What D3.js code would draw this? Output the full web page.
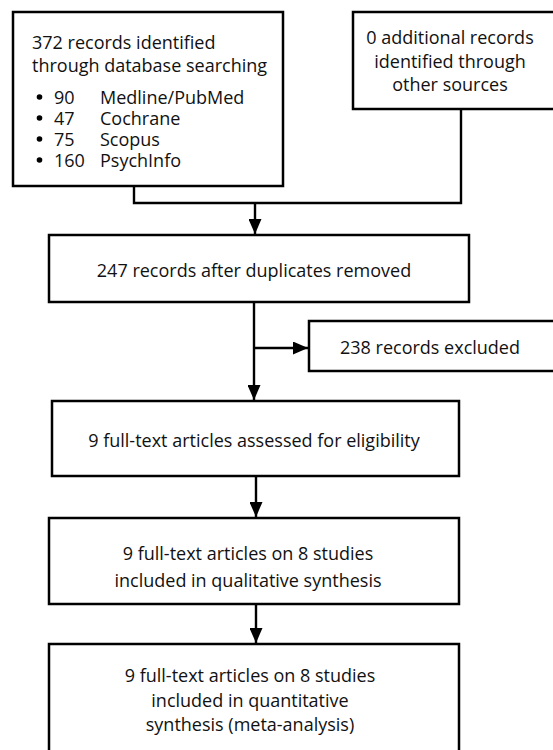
<!DOCTYPE html>
<html>
<head>
<meta charset="utf-8">
<script src="https://cdn.jsdelivr.net/npm/d3@7"></script>
<style>
  html, body { margin: 0; padding: 0; background: #fff; }
  svg { display: block; }
  text { font-family: "Open Sans", "Noto Sans", sans-serif; font-size: 18px; fill: #111; }
</style>
</head>
<body>
<svg id="chart"></svg>
<script>
// ── Data ──────────────────────────────────────────────────────────────────────
const dbTotal    = 372;
const dbNames    = ["Medline/PubMed", "Cochrane", "Scopus", "PsychInfo"];
const dbCounts   = [90, 47, 75, 160];
const otherCount = 0;
const afterDupes = 247;
const excluded   = 238;
const fullText   = 9;
const studies    = 8;

const dbLines    = [`${dbTotal} records identified`, "through database searching"];
const otherLines = [`${otherCount} additional records`, "identified through", "other sources"];
const dupeLines  = [`${afterDupes} records after duplicates removed`];
const exclLines  = [`${excluded} records excluded`];
const eligLines  = [`${fullText} full-text articles assessed for eligibility`];
const qualLines  = [`${fullText} full-text articles on ${studies} studies`, "included in qualitative synthesis"];
const quantLines = [`${fullText} full-text articles on ${studies} studies`, "included in quantitative", "synthesis (meta-analysis)"];

// ── Layout ────────────────────────────────────────────────────────────────────
const W = 553, H = 750;
const svg = d3.select("#chart").attr("width", W).attr("height", H);

svg.append("defs").append("marker")
  .attr("id", "arrow")
  .attr("viewBox", "0 0 15 13")
  .attr("refX", 15).attr("refY", 6.5)
  .attr("markerWidth", 15).attr("markerHeight", 13)
  .attr("markerUnits", "userSpaceOnUse")
  .attr("orient", "auto")
  .append("path").attr("d", "M0,0 L15,6.5 L0,13 Z").attr("fill", "#000");

// boxes: x, y, w, h, text centre x, line ys
const boxes = [
  { id: "db",    x: 13,  y: 12,  w: 270, h: 174 },
  { id: "other", x: 353, y: 12,  w: 220, h: 97,  lines: otherLines, cx: 450, ys: [37, 61, 84] },
  { id: "dupe",  x: 49,  y: 235, w: 420, h: 67,  lines: dupeLines,  cx: 254, ys: [270] },
  { id: "excl",  x: 309, y: 321, w: 260, h: 50,  lines: exclLines,  cx: 430, ys: [347] },
  { id: "elig",  x: 52,  y: 401, w: 407, h: 75,  lines: eligLines,  cx: 254, ys: [440] },
  { id: "qual",  x: 49,  y: 518, w: 410, h: 86,  lines: qualLines,  cx: 248, ys: [553, 580] },
  { id: "quant", x: 49,  y: 644, w: 410, h: 120, lines: quantLines, cx: 250, ys: [675, 700, 724] }
];

const g = svg.append("g");

g.selectAll("rect.box")
  .data(boxes)
  .join("rect")
  .attr("class", "box")
  .attr("x", d => d.x).attr("y", d => d.y)
  .attr("width", d => d.w).attr("height", d => d.h)
  .attr("fill", "#fff")
  .attr("stroke", "#000")
  .attr("stroke-width", 2.5);

boxes.filter(d => d.lines).forEach(b => {
  g.selectAll(null)
    .data(b.lines)
    .join("text")
    .attr("x", b.cx)
    .attr("y", (d, i) => b.ys[i])
    .attr("text-anchor", "middle")
    .attr("dominant-baseline", "central")
    .text(d => d);
});

// database box: heading + bulleted list
g.selectAll(null)
  .data(dbLines)
  .join("text")
  .attr("x", 32)
  .attr("y", (d, i) => 42 + i * 23)
  .attr("dominant-baseline", "central")
  .text(d => d);

const rowY = d3.scalePoint().domain(dbNames).range([97, 160]);
const rows = g.selectAll("g.row")
  .data(dbNames)
  .join("g")
  .attr("class", "row")
  .attr("transform", d => `translate(0,${rowY(d)})`);
rows.append("circle").attr("cx", 39.5).attr("cy", 0).attr("r", 2.8).attr("fill", "#000");
rows.append("text").attr("x", 54).attr("dominant-baseline", "central").text((d, i) => dbCounts[i]);
rows.append("text").attr("x", 100).attr("dominant-baseline", "central").text(d => d);

// connectors
const line = d3.line();
const conn = [
  { pts: [[134, 186], [134, 203], [461, 203], [461, 109]] },
  { pts: [[255, 203], [255, 234]], arrow: true },
  { pts: [[254, 302], [254, 400]], arrow: true },
  { pts: [[254, 348], [308, 348]], arrow: true },
  { pts: [[256, 476], [256, 517]], arrow: true },
  { pts: [[256, 604], [256, 643]], arrow: true }
];
g.selectAll("path.conn")
  .data(conn)
  .join("path")
  .attr("class", "conn")
  .attr("d", d => line(d.pts))
  .attr("fill", "none")
  .attr("stroke", "#000")
  .attr("stroke-width", 2.4)
  .attr("marker-end", d => d.arrow ? "url(#arrow)" : null);
</script>
</body>
</html>
